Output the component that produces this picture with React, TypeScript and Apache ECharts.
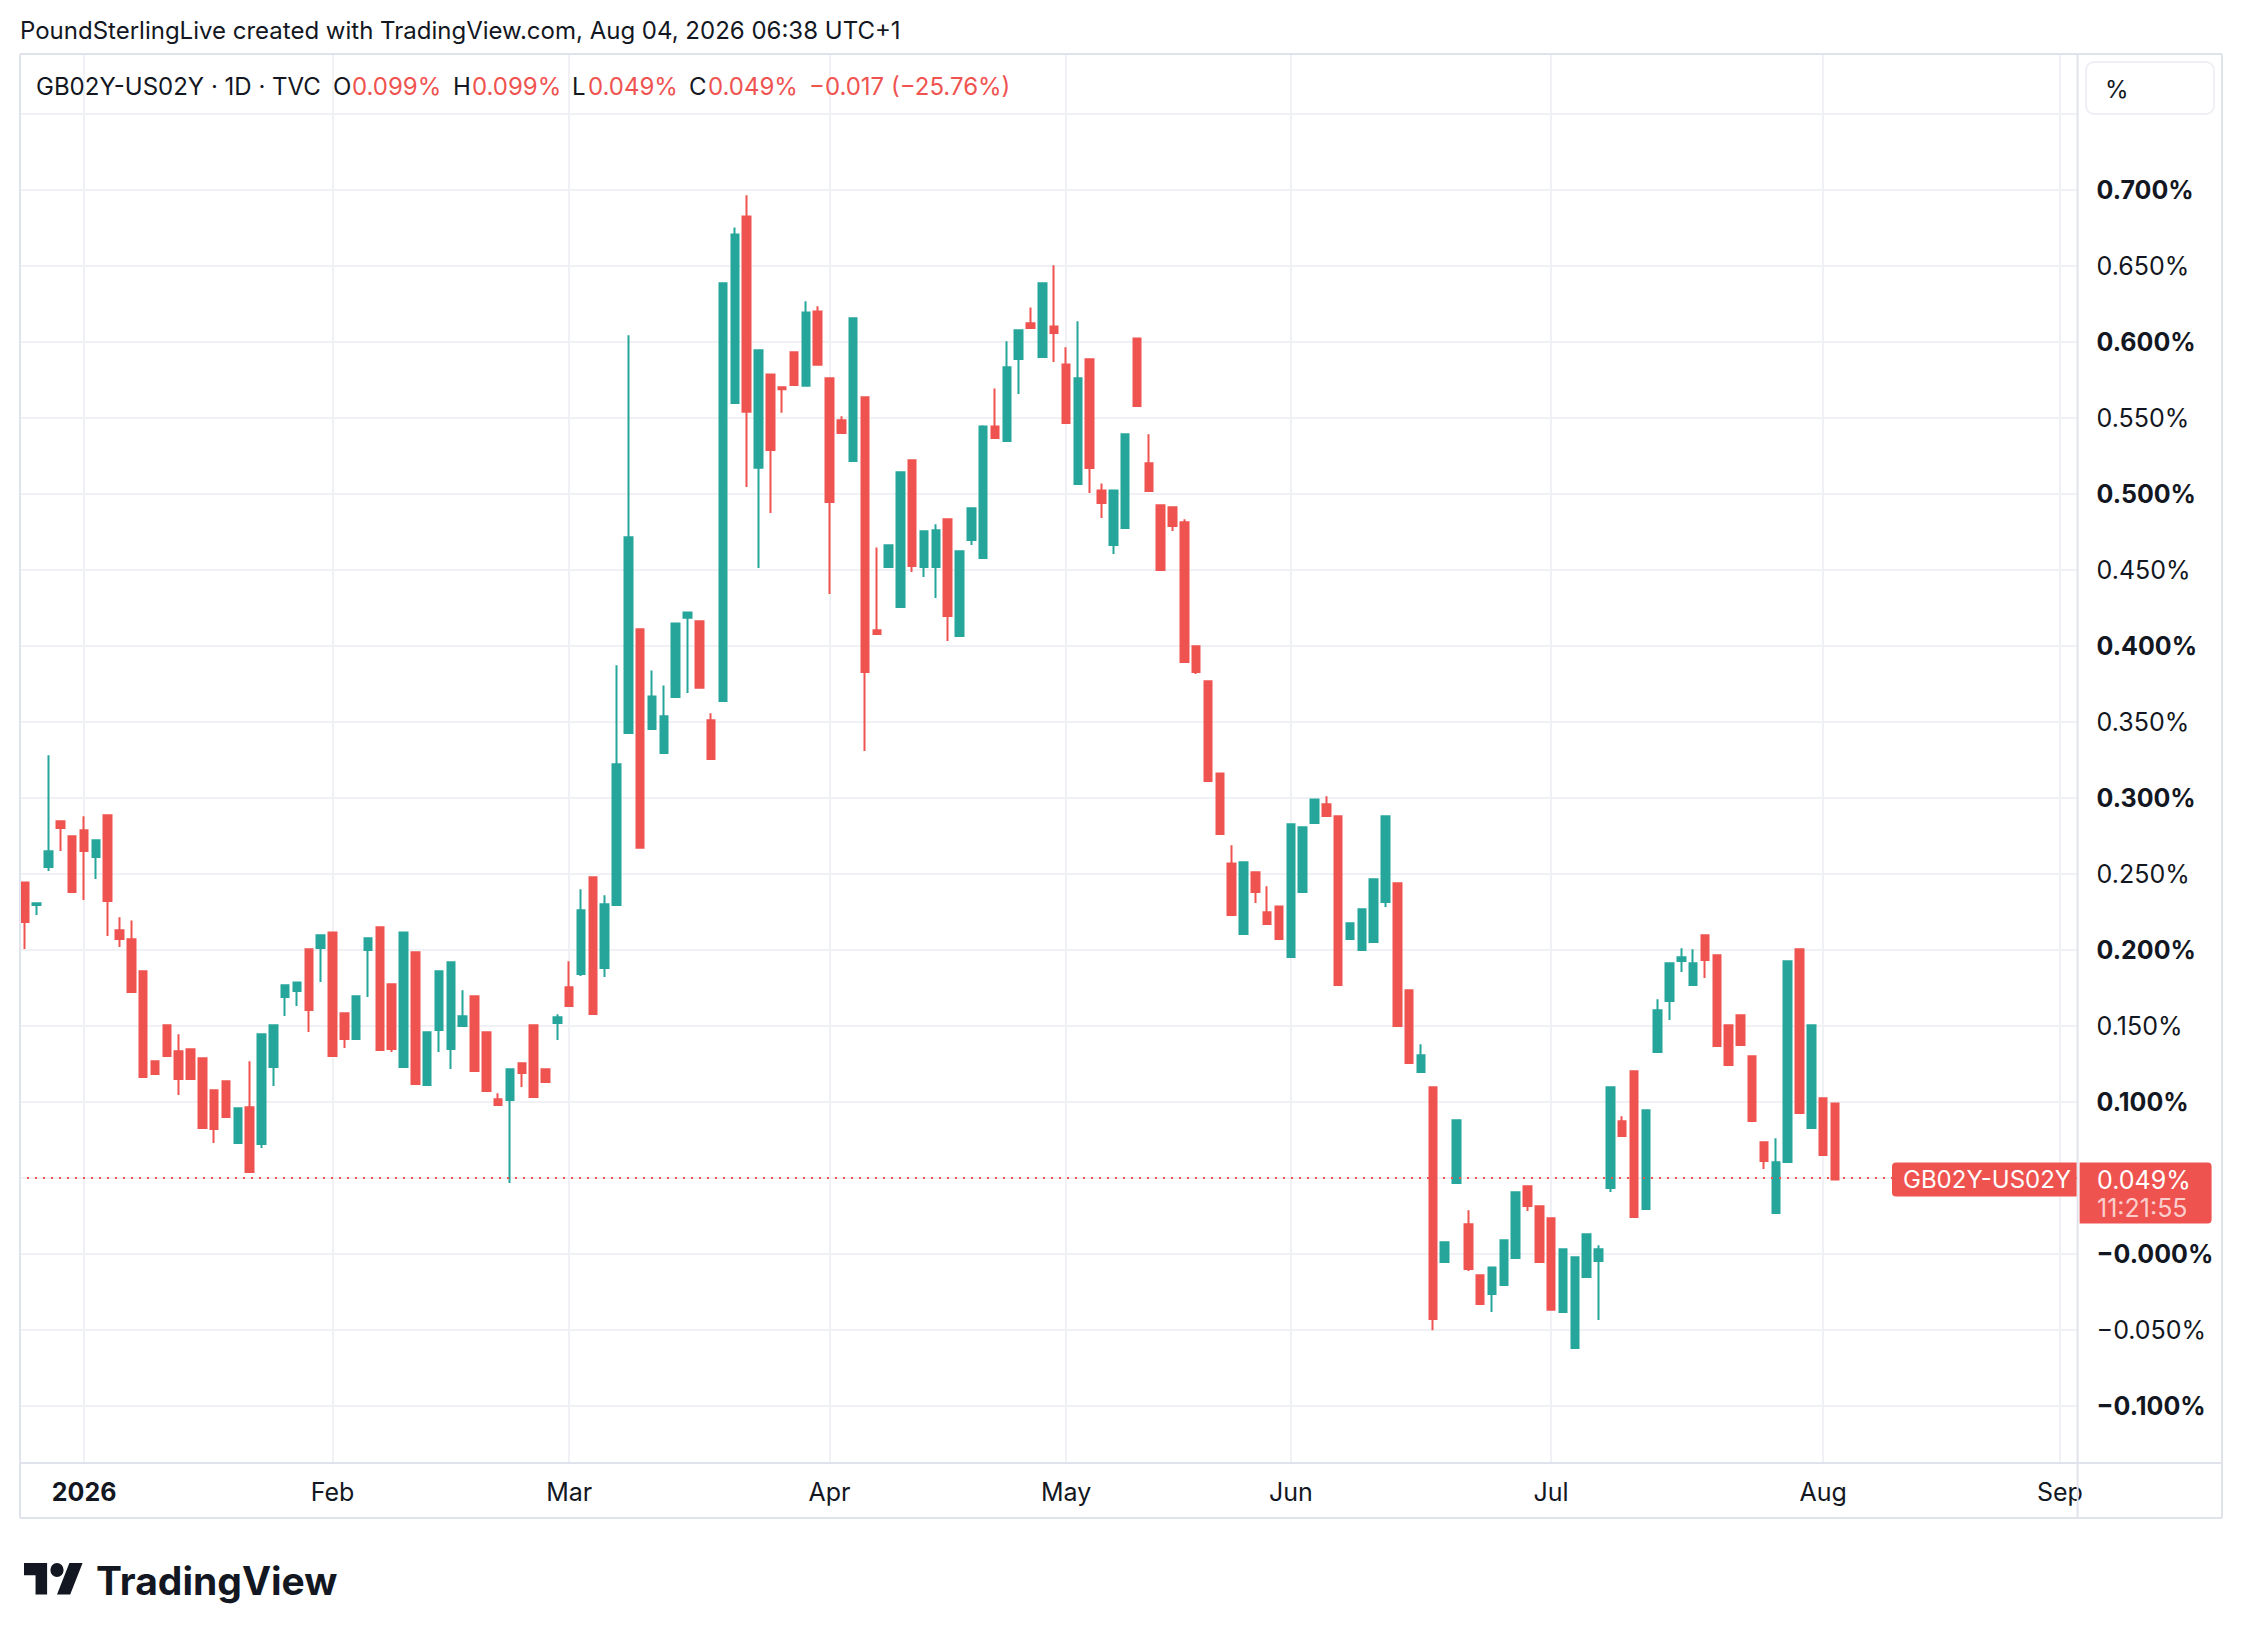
import React, { useEffect, useRef } from 'react';
import * as echarts from 'echarts';

// ---- sessions (daily bars, weekdays, exchange holidays skipped) ----
const firstSession = '2025-12-23';
const lastSession = '2026-09-02';
const marketHolidays = ['2025-12-25', '2025-12-26', '2026-01-01', '2026-04-03', '2026-04-06', '2026-05-04', '2026-05-25', '2026-08-31'];
const monthKeys = ['2026-01', '2026-02', '2026-03', '2026-04', '2026-05', '2026-06', '2026-07', '2026-08', '2026-09'];
const monthNames = ['2026', 'Feb', 'Mar', 'Apr', 'May', 'Jun', 'Jul', 'Aug', 'Sep'];

// ---- OHLC values (%) ----
const open = [
  0.2445, 0.2296, 0.2546, 0.2847, 0.2748, 0.2788, 0.2612, 0.2886, 0.2130, 0.2070,
  0.1860, 0.1268, 0.1505, 0.1334, 0.1347, 0.1288, 0.1077, 0.1136, 0.0731, 0.0965,
  0.0724, 0.1231, 0.1691, 0.1730, 0.2005, 0.2013, 0.2116, 0.1584, 0.1415, 0.2000,
  0.2149, 0.1774, 0.1231, 0.1985, 0.1112, 0.1474, 0.1349, 0.1500, 0.1695, 0.1459,
  0.1018, 0.1013, 0.1255, 0.1505, 0.1215, 0.1520, 0.1755, 0.1842, 0.2478, 0.1882,
  0.2296, 0.3428, 0.4111, 0.3454, 0.3297, 0.3665, 0.4186, 0.4163, 0.3512, 0.3639,
  0.5599, 0.6826, 0.5173, 0.5787, 0.5703, 0.5932, 0.5712, 0.6201, 0.5761, 0.5485,
  0.5217, 0.5636, 0.4103, 0.4520, 0.4257, 0.5222, 0.4520, 0.4520, 0.4834, 0.4066,
  0.4698, 0.4579, 0.5445, 0.5349, 0.5888, 0.6123, 0.5902, 0.6103, 0.5853, 0.5066,
  0.5886, 0.5024, 0.4665, 0.4777, 0.6024, 0.5202, 0.4926, 0.4913, 0.4814, 0.3998,
  0.3768, 0.3162, 0.2570, 0.2105, 0.2511, 0.2248, 0.2287, 0.1954, 0.2382, 0.2836,
  0.2959, 0.2880, 0.2073, 0.2000, 0.2053, 0.2316, 0.2439, 0.1735, 0.1197, 0.1097,
  -0.0052, 0.0467, 0.0195, -0.0140, -0.0263, -0.0204, -0.0026, 0.0445, 0.0314, 0.0235,
  -0.0381, -0.0618, -0.0151, -0.0046, 0.0434, 0.0873, 0.1202, 0.0296, 0.1329, 0.1665,
  0.1928, 0.1770, 0.2097, 0.1965, 0.1505, 0.1570, 0.1301, 0.0735, 0.0270, 0.0605,
  0.2005, 0.0829, 0.1024, 0.0990,
];
const close = [
  0.2184, 0.2307, 0.2649, 0.2803, 0.2382, 0.2652, 0.2722, 0.2323, 0.2073, 0.1724,
  0.1165, 0.1184, 0.1303, 0.1152, 0.1152, 0.0829, 0.0823, 0.0902, 0.0959, 0.0540,
  0.1445, 0.1505, 0.1768, 0.1787, 0.1606, 0.2097, 0.1303, 0.1415, 0.1695, 0.2077,
  0.1342, 0.1349, 0.2116, 0.1119, 0.1459, 0.1860, 0.1919, 0.1564, 0.1204, 0.1073,
  0.0980, 0.1215, 0.1191, 0.1033, 0.1132, 0.1557, 0.1632, 0.2261, 0.1579, 0.2301,
  0.3222, 0.4716, 0.2672, 0.3668, 0.3538, 0.4149, 0.4221, 0.3726, 0.3257, 0.6386,
  0.6708, 0.5541, 0.5946, 0.5289, 0.5689, 0.5718, 0.6195, 0.5851, 0.4948, 0.5402,
  0.6156, 0.3829, 0.4079, 0.4663, 0.5143, 0.4527, 0.4755, 0.4761, 0.4198, 0.4623,
  0.4906, 0.5445, 0.5369, 0.5834, 0.6077, 0.6092, 0.6386, 0.6059, 0.5467, 0.5761,
  0.5171, 0.4941, 0.5024, 0.5393, 0.5579, 0.5020, 0.4500, 0.4790, 0.3895, 0.3829,
  0.3112, 0.2763, 0.2230, 0.2577, 0.2382, 0.2171, 0.2072, 0.2827, 0.2807, 0.2991,
  0.2882, 0.1770, 0.2176, 0.2268, 0.2465, 0.2880, 0.1500, 0.1257, 0.1307, -0.0427,
  0.0077, 0.0880, -0.0098, -0.0329, -0.0088, 0.0090, 0.0406, 0.0316, -0.0052, -0.0366,
  0.0031, -0.0022, 0.0130, 0.0031, 0.1097, 0.0777, 0.0244, 0.0945, 0.1603, 0.1913,
  0.1952, 0.1913, 0.1934, 0.1369, 0.1244, 0.1375, 0.0875, 0.0612, 0.0603, 0.1926,
  0.0928, 0.1505, 0.0652, 0.0490,
];
const low = [
  0.2007, 0.2230, 0.2520, 0.2652, 0.2382, 0.2329, 0.2467, 0.2092, 0.2020, 0.1724,
  0.1165, 0.1184, 0.1303, 0.1046, 0.1152, 0.0829, 0.0731, 0.0902, 0.0731, 0.0540,
  0.0698, 0.1106, 0.1566, 0.1632, 0.1461, 0.1790, 0.1303, 0.1356, 0.1415, 0.1691,
  0.1342, 0.1329, 0.1231, 0.1119, 0.1112, 0.1329, 0.1217, 0.1500, 0.1204, 0.1073,
  0.0980, 0.0467, 0.1099, 0.1033, 0.1132, 0.1408, 0.1632, 0.1829, 0.1579, 0.1823,
  0.2296, 0.3428, 0.2672, 0.3454, 0.3297, 0.3665, 0.3691, 0.3726, 0.3257, 0.3639,
  0.5599, 0.5046, 0.4513, 0.4875, 0.5535, 0.5718, 0.5712, 0.5851, 0.4342, 0.5402,
  0.5217, 0.3309, 0.4079, 0.4520, 0.4257, 0.4487, 0.4454, 0.4316, 0.4033, 0.4066,
  0.4665, 0.4579, 0.5369, 0.5349, 0.5658, 0.6092, 0.5902, 0.5869, 0.5467, 0.5066,
  0.5007, 0.4842, 0.4606, 0.4777, 0.5579, 0.5013, 0.4500, 0.4757, 0.3895, 0.3816,
  0.3112, 0.2763, 0.2230, 0.2105, 0.2309, 0.2171, 0.2072, 0.1954, 0.2382, 0.2836,
  0.2882, 0.1770, 0.2073, 0.2000, 0.2053, 0.2283, 0.1500, 0.1257, 0.1191, -0.0502,
  -0.0052, 0.0467, -0.0112, -0.0329, -0.0381, -0.0204, -0.0026, 0.0283, -0.0059, -0.0366,
  -0.0381, -0.0618, -0.0151, -0.0434, 0.0408, 0.0777, 0.0244, 0.0296, 0.1329, 0.1540,
  0.1856, 0.1770, 0.1816, 0.1369, 0.1244, 0.1375, 0.0875, 0.0559, 0.0270, 0.0605,
  0.0928, 0.0829, 0.0652, 0.0490,
];
const high = [
  0.2445, 0.2307, 0.3281, 0.2847, 0.2748, 0.2880, 0.2722, 0.2886, 0.2215, 0.2195,
  0.1860, 0.1268, 0.1505, 0.1445, 0.1347, 0.1288, 0.1077, 0.1136, 0.0959, 0.1268,
  0.1445, 0.1505, 0.1768, 0.1787, 0.2005, 0.2097, 0.2116, 0.1584, 0.1695, 0.2077,
  0.2149, 0.1774, 0.2116, 0.1985, 0.1459, 0.1860, 0.1919, 0.1735, 0.1695, 0.1459,
  0.1057, 0.1215, 0.1255, 0.1505, 0.1215, 0.1577, 0.1926, 0.2399, 0.2478, 0.2360,
  0.3873, 0.6045, 0.4111, 0.3839, 0.3740, 0.4149, 0.4221, 0.4163, 0.3558, 0.6386,
  0.6754, 0.6965, 0.5946, 0.5787, 0.5703, 0.5932, 0.6268, 0.6236, 0.5761, 0.5511,
  0.6156, 0.5636, 0.4649, 0.4663, 0.5143, 0.5222, 0.4755, 0.4801, 0.4834, 0.4623,
  0.4906, 0.5452, 0.5695, 0.6005, 0.6077, 0.6228, 0.6386, 0.6505, 0.5965, 0.6136,
  0.5886, 0.5070, 0.5024, 0.5393, 0.6024, 0.5393, 0.4926, 0.4913, 0.4834, 0.3998,
  0.3768, 0.3162, 0.2689, 0.2577, 0.2511, 0.2419, 0.2287, 0.2827, 0.2807, 0.2991,
  0.3011, 0.2880, 0.2176, 0.2268, 0.2465, 0.2880, 0.2439, 0.1735, 0.1380, 0.1097,
  0.0077, 0.0880, 0.0288, -0.0140, -0.0088, 0.0090, 0.0406, 0.0445, 0.0314, 0.0235,
  0.0031, -0.0022, 0.0130, 0.0057, 0.1097, 0.0906, 0.1202, 0.0945, 0.1676, 0.1913,
  0.2011, 0.2005, 0.2097, 0.1965, 0.1505, 0.1570, 0.1301, 0.0735, 0.0761, 0.1926,
  0.2005, 0.1505, 0.1024, 0.0990,
];

// ---- texts ----
const headerText = 'PoundSterlingLive created with TradingView.com, Aug 04, 2026 06:38 UTC+1';
const symbolTitle = 'GB02Y-US02Y · 1D · TVC';
const legendKeys = ['O', 'H', 'L', 'C'];
const legendValues = ['0.099%', '0.099%', '0.049%', '0.049%'];
const legendChange = '\u22120.017 (\u221225.76%)';
const priceTagName = 'GB02Y-US02Y';
const priceTagValue = '0.049%';
const priceTagTimer = '11:21:55';
const hiddenYTicks = [0.75, 0.05];

// ---- scale of the pane (% shown at pane top and bottom) ----
const yMin = -0.1375;
const yMax = 0.7895;

const UP = '#26a69a';
const DOWN = '#ef5350';
const INK = '#131722';
const GRID = '#f0f1f4';
const BORDER = '#e0e3eb';
const FONT = 'Inter, "Noto Sans", sans-serif';

const logoPath = 'M14 22H7V11H0V4h14v18ZM28 22h-8l7.5-18h8L28 22ZM24 8a4 4 0 1 1-8 0a4 4 0 1 1 8 0Z';
echarts.graphic.registerShape('tvlogo', echarts.graphic.extendPath(logoPath, {}) as any);

function buildSessions(): string[] {
  const out: string[] = [];
  const d = new Date(firstSession + 'T00:00:00Z');
  const end = new Date(lastSession + 'T00:00:00Z');
  while (d.getTime() <= end.getTime()) {
    const wd = d.getUTCDay();
    const s = d.toISOString().slice(0, 10);
    if (wd !== 0 && wd !== 6 && marketHolidays.indexOf(s) < 0) out.push(s);
    d.setUTCDate(d.getUTCDate() + 1);
  }
  return out;
}

export default function App() {
  const ref = useRef<HTMLDivElement>(null);
  useEffect(() => {
    document.body.style.margin = '0';
    if (!ref.current) return;
    const chart = echarts.init(ref.current, null, { renderer: 'svg' });

    const sessions = buildSessions();
    const monthLabelAt: Record<number, string> = {};
    for (let i = 1; i < sessions.length; i++) {
      const k = sessions[i].slice(0, 7);
      if (k !== sessions[i - 1].slice(0, 7)) {
        const m = monthKeys.indexOf(k);
        if (m >= 0) monthLabelAt[i] = monthNames[m];
      }
    }
    const isMonthStart = (i: number) => monthLabelAt[i] !== undefined;
    const candles = open.map((o, i) => [o, close[i], low[i], high[i]]);
    const lastClose = close[close.length - 1];

    const gridLeft = 19;
    const gridTop = 54;
    const gridW = 2058.6;
    const gridH = 1409;
    const paneRight = gridLeft + gridW;
    const paneBottom = gridTop + gridH;
    const frameRight = 2222;
    const frameBottom = 1518;
    const yOf = (v: number) => gridTop + ((yMax - v) / (yMax - yMin)) * gridH;
    const tagY = yOf(lastClose);

    const txt = (text: string, x: number, y: number, opts: any = {}) => ({
      type: 'text',
      x,
      y,
      z: 120,
      silent: true,
      style: {
        text,
        fill: opts.fill || INK,
        fontSize: opts.fontSize || 24,
        fontFamily: FONT,
        fontWeight: opts.fontWeight || 'normal',
        align: opts.align || 'left',
        verticalAlign: 'middle',
        textAlign: opts.align || 'left',
        textVerticalAlign: 'middle',
      },
    });
    const line = (x1: number, y1: number, x2: number, y2: number, color = BORDER) => ({
      type: 'line',
      z: 110,
      silent: true,
      shape: { x1, y1, x2, y2 },
      style: { stroke: color, lineWidth: 2 },
    });

    const legendX = [333, 453, 572, 689];
    const legendValX = [352, 472, 588, 708];
    const graphics: any[] = [
      txt(headerText, 20, 30, { fontSize: 24 }),
      txt(symbolTitle, 36, 86, { fontSize: 24 }),
      ...legendKeys.map((k, i) => txt(k, legendX[i], 86, { fontSize: 24 })),
      ...legendValues.map((v, i) => txt(v, legendValX[i], 86, { fontSize: 24, fill: DOWN })),
      txt(legendChange, 809, 86, { fontSize: 24, fill: DOWN }),
      // frame
      line(20, gridTop, frameRight, gridTop),
      line(20, gridTop, 20, frameBottom),
      line(frameRight, gridTop, frameRight, frameBottom),
      line(20, frameBottom, frameRight, frameBottom),
      line(20, paneBottom, frameRight, paneBottom),
      line(paneRight, gridTop, paneRight, frameBottom),
      // % box
      {
        type: 'rect',
        z: 110,
        silent: true,
        shape: { x: 2086, y: 62, width: 128, height: 52, r: 8 },
        style: { fill: '#ffffff', stroke: '#eef0f3', lineWidth: 2 },
      },
      txt('%', 2105, 89, { fontSize: 24 }),
      // last price tags
      {
        type: 'rect',
        z: 115,
        silent: true,
        shape: { x: 1892, y: tagY - 17, width: paneRight - 1 - 1892, height: 34, r: [4, 0, 0, 4] },
        style: { fill: DOWN },
      },
      txt(priceTagName, 1903, tagY, { fontSize: 24, fill: '#ffffff' }),
      {
        type: 'rect',
        z: 115,
        silent: true,
        shape: { x: paneRight + 2, y: tagY - 17, width: 132, height: 61, r: [0, 4, 4, 0] },
        style: { fill: DOWN },
      },
      txt(priceTagValue, 2097, tagY, { fontSize: 25, fill: '#ffffff' }),
      txt(priceTagTimer, 2097, tagY + 28, { fontSize: 25, fill: 'rgba(255,255,255,0.72)' }),
      // TradingView logo
      {
        type: 'tvlogo',
        z: 120,
        silent: true,
        x: 24,
        y: 1556,
        scaleX: 1.65,
        scaleY: 1.75,
        style: { fill: INK },
      },
      txt('TradingView', 96, 1580, { fontSize: 39, fontWeight: 'bold' }),
    ];

    const option: any = {
      animation: false,
      backgroundColor: '#ffffff',
      textStyle: { fontFamily: FONT },
      grid: { left: gridLeft, top: gridTop, width: gridW, height: gridH, containLabel: false },
      xAxis: {
        type: 'category',
        data: sessions,
        boundaryGap: true,
        axisLine: { show: false },
        axisTick: { show: false },
        axisLabel: {
          interval: (i: number) => isMonthStart(i),
          formatter: (_v: string, i: number) => {
            const l = monthLabelAt[i];
            if (!l) return '';
            return /^\d+$/.test(l) ? '{b|' + l + '}' : '{n|' + l + '}';
          },
          margin: 16,
          rich: {
            b: { fontSize: 25, fontWeight: 'bold', color: INK, fontFamily: FONT },
            n: { fontSize: 25, color: INK, fontFamily: FONT },
          },
        },
        splitLine: {
          show: true,
          interval: (i: number) => isMonthStart(i),
          alignWithLabel: true,
          lineStyle: { color: GRID, width: 2 },
        },
      },
      yAxis: {
        type: 'value',
        position: 'right',
        min: yMin,
        max: yMax,
        splitNumber: 18,
        axisLine: { show: false },
        axisTick: { show: false },
        splitLine: { show: true, showMinLine: false, showMaxLine: false, lineStyle: { color: GRID, width: 2 } },
        axisLabel: {
          showMinLabel: false,
          showMaxLabel: false,
          margin: 19,
          formatter: (value: number) => {
            const v = Math.round(value * 1000) / 1000;
            if (Math.abs(v * 20 - Math.round(v * 20)) > 1e-6) return '';
            if (hiddenYTicks.some((h) => Math.abs(h - v) < 1e-6)) return '';
            const s = (v <= 0 ? '\u2212' : '') + Math.abs(v).toFixed(3) + '%';
            const bold = Math.abs(v * 10 - Math.round(v * 10)) < 1e-6;
            return bold ? '{b|' + s + '}' : '{n|' + s + '}';
          },
          rich: {
            b: { fontSize: 25, fontWeight: 'bold', color: INK, fontFamily: FONT },
            n: { fontSize: 25, color: INK, fontFamily: FONT },
          },
        },
      },
      series: [
        {
          type: 'candlestick',
          data: candles,
          barWidth: 8,
          itemStyle: {
            color: UP,
            color0: DOWN,
            borderColor: UP,
            borderColor0: DOWN,
            borderWidth: 2,
          },
          markLine: {
            silent: true,
            symbol: ['none', 'none'],
            label: { show: false },
            lineStyle: { color: DOWN, type: [2, 6], width: 2 },
            data: [{ yAxis: lastClose }],
          },
        },
      ],
      graphic: { elements: graphics },
    };
    chart.setOption(option);
    return () => chart.dispose();
  }, []);
  return <div ref={ref} style={{ width: 2242, height: 1638 }} />;
}
